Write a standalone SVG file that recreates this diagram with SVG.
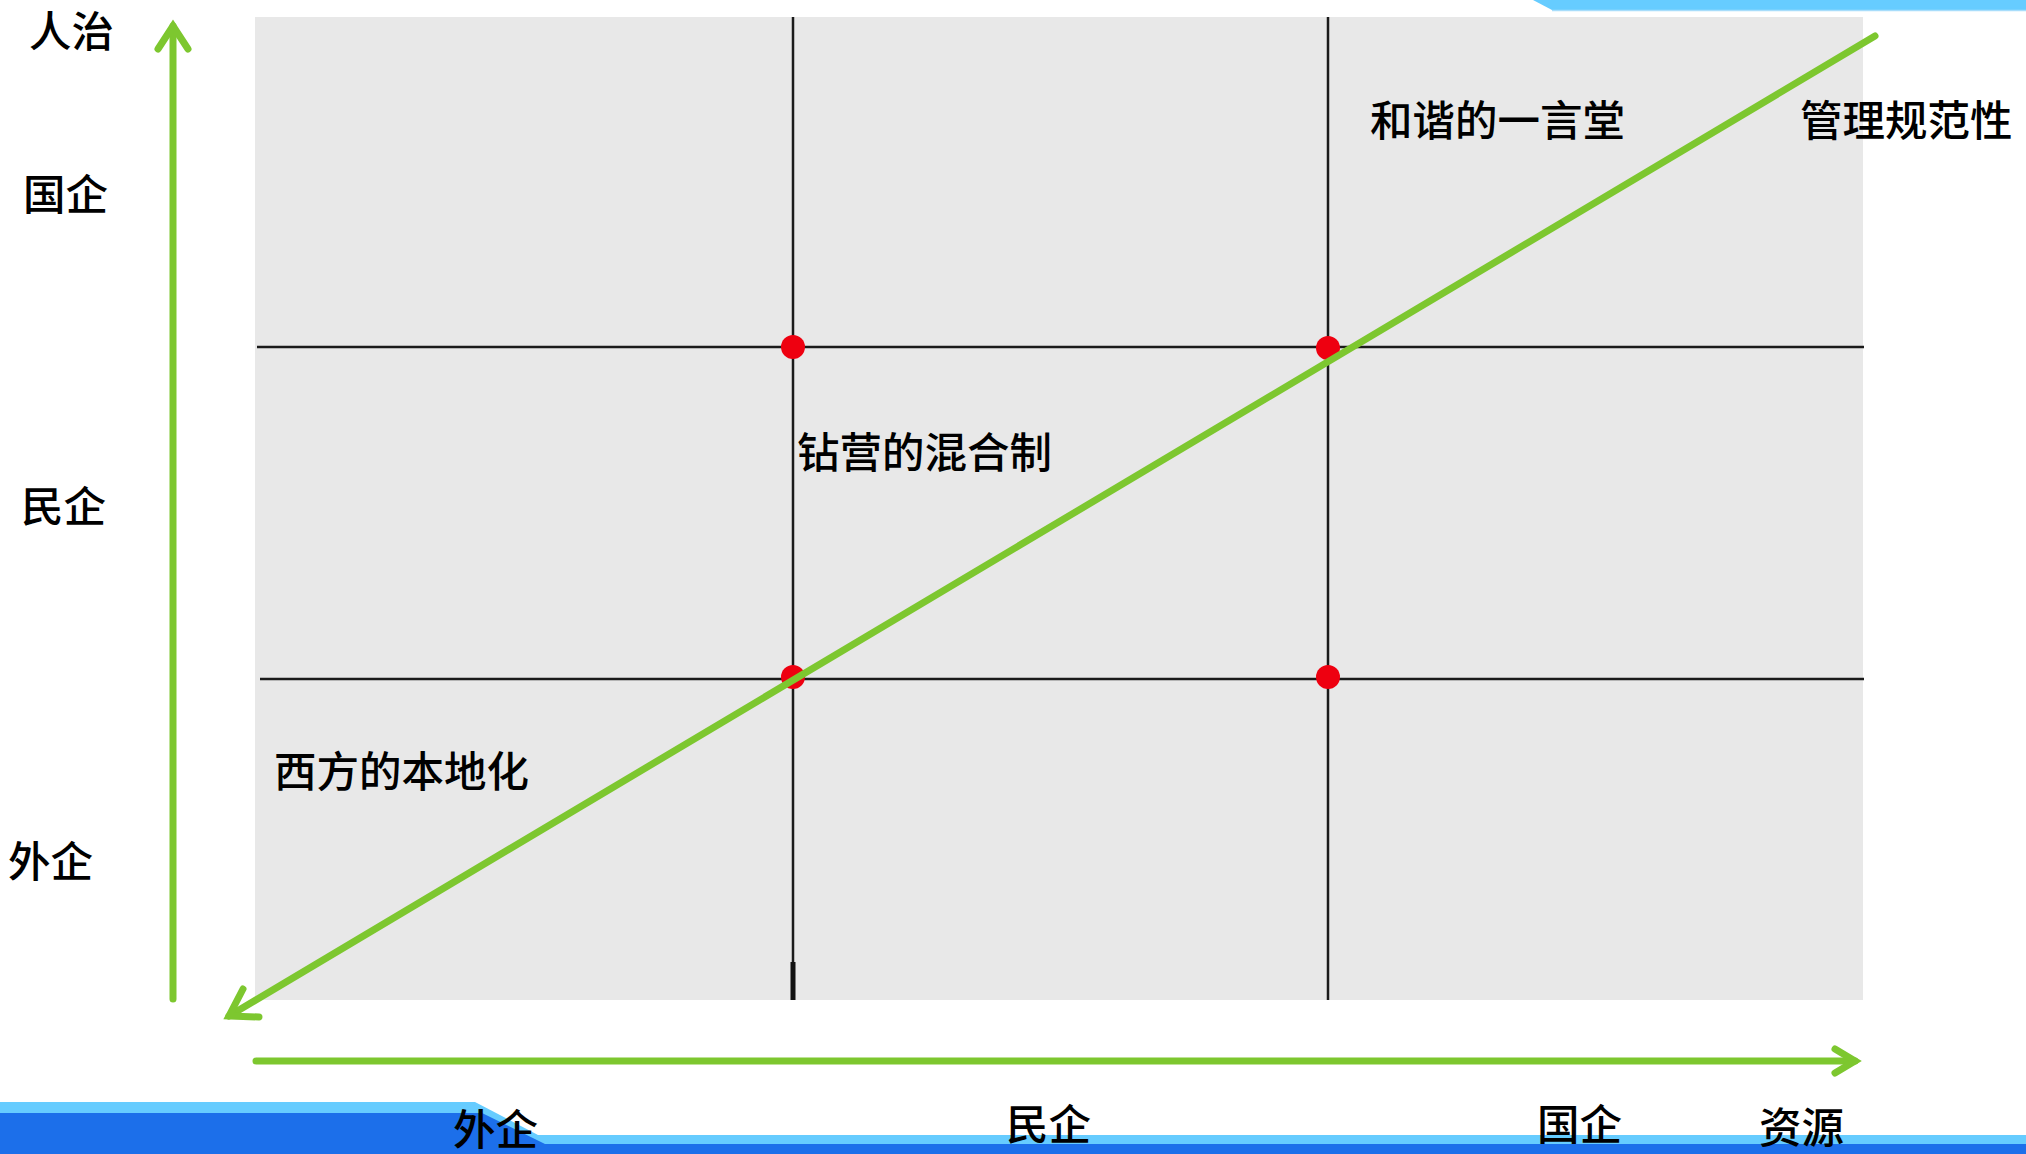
<svg xmlns="http://www.w3.org/2000/svg" width="2026" height="1154" viewBox="0 0 2026 1154">
<style>
.lbl{font-family:"Noto Sans CJK SC","Noto Sans",sans-serif;font-size:42.5px;fill:#000;font-weight:500}
.grid{stroke:#1a1a1a;stroke-width:2.5;fill:none}
.arrow{stroke:#7DC72F;stroke-width:7;fill:none;stroke-linecap:round;stroke-linejoin:miter}
.dot{fill:#EE0010}
</style>
<rect width="2026" height="1154" fill="#fff"/>
<!-- decorative bands -->
<polygon points="1533,0 2026,0 2026,10 1552,10" fill="#66CCFF"/>
<line x1="1552" y1="10.5" x2="2026" y2="10.5" stroke="#A8DDFB" stroke-width="1.5"/>
<polygon points="0,1102 475,1102 538,1135 2026,1135 2026,1154 0,1154" fill="#66CCFF"/>
<polygon points="0,1113 482,1113 545,1144 2026,1144 2026,1154 0,1154" fill="#1C6FEA"/>
<!-- plot background -->
<rect id="plot" x="255" y="17" width="1608" height="983" fill="#E8E8E8"/>
<g id="grid">
<line class="grid" x1="793" y1="17" x2="793" y2="1000"/>
<line class="grid" x1="1328" y1="17" x2="1328" y2="1000"/>
<line class="grid" x1="257" y1="347" x2="1864" y2="347"/>
<line class="grid" x1="260" y1="679" x2="1864" y2="679"/>
<line x1="793" y1="962" x2="793" y2="1000" stroke="#111" stroke-width="5"/>
</g>
<g id="dots">
<circle class="dot" cx="793" cy="347" r="12"/>
<circle class="dot" cx="1328" cy="348" r="12"/>
<circle class="dot" cx="793" cy="677" r="12"/>
<circle class="dot" cx="1328" cy="677" r="12"/>
</g>
<g id="connectors">
<line class="arrow" x1="173" y1="999" x2="173" y2="26"/>
<polyline class="arrow" points="158,49 173,26 188,49"/>
<line class="arrow" x1="256" y1="1061" x2="1855" y2="1061"/>
<polyline class="arrow" points="1835,1049 1855,1061 1835,1073"/>
<line class="arrow" x1="1875" y1="36" x2="229" y2="1016"/>
<polyline class="arrow" points="259,1017 229,1016 243,989"/>
</g>
<g id="labels">
<text class="lbl" x="29" y="47">人治</text>
<text class="lbl" x="23" y="210">国企</text>
<text class="lbl" x="21" y="522">民企</text>
<text class="lbl" x="8" y="877">外企</text>
<text class="lbl" x="274" y="787">西方的本地化</text>
<text class="lbl" x="797" y="468">钻营的混合制</text>
<text class="lbl" x="1370" y="136">和谐的一言堂</text>
<text class="lbl" x="1800" y="136">管理规范性</text>
<text class="lbl" x="453" y="1145">外企</text>
<text class="lbl" x="1006" y="1140">民企</text>
<text class="lbl" x="1537" y="1140">国企</text>
<text class="lbl" x="1759" y="1143">资源</text>
</g>
</svg>
